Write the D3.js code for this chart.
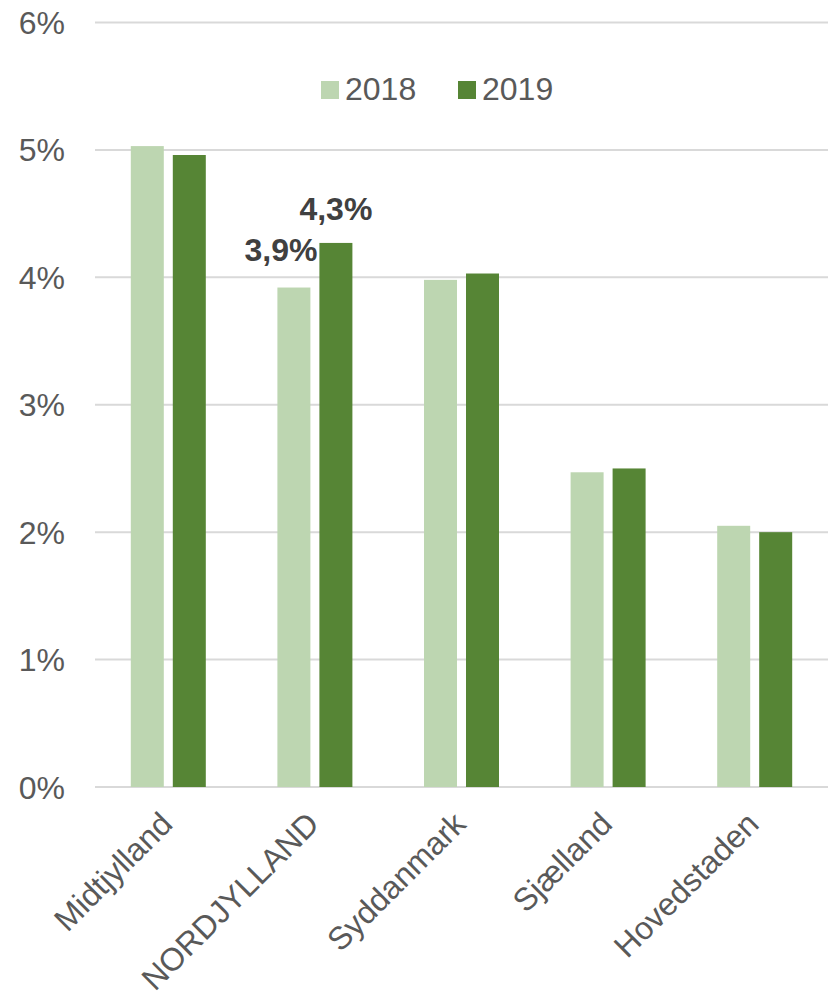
<!DOCTYPE html>
<html>
<head>
<meta charset="utf-8">
<script src="https://cdn.jsdelivr.net/npm/d3@7/dist/d3.min.js"></script>
<style>
    html, body { margin: 0; padding: 0; background: #fff; }
    svg text { font-family: "Liberation Sans", Arial, sans-serif; }
</style>
</head>
<body>
<div id="chart"></div>
<script>
(function () {

    // Data
    var regions = ['Midtjylland', 'NORDJYLLAND', 'Syddanmark', 'Sjælland', 'Hovedstaden'];
    var years = ['2018', '2019'];
    var values2018 = [0.0503, 0.0392, 0.0398, 0.0247, 0.0205];
    var values2019 = [0.0496, 0.0427, 0.0403, 0.0250, 0.0200];
    var yTicks = [0, 0.01, 0.02, 0.03, 0.04, 0.05, 0.06];
    var yTickLabels = ['0%', '1%', '2%', '3%', '4%', '5%', '6%'];
    var labelled = [
        { region: 'NORDJYLLAND', year: '2018', text: '3,9%' },
        { region: 'NORDJYLLAND', year: '2019', text: '4,3%' }
    ];

    var colors = { '2018': '#bdd6b1', '2019': '#568535' };
    var textGray = '#595959';

    var width = 833, height = 1003;

    // Root svg
    var svg = d3.select('#chart')
        .append('svg')
        .attr('width', width)
        .attr('height', height);

    // Scales
    var x = d3.scaleBand()
        .domain(regions)
        .range([95, 828]);

    var groupW = 75;
    var x1 = d3.scaleBand()
        .domain(years)
        .range([(x.bandwidth() - groupW) / 2, (x.bandwidth() + groupW) / 2])
        .paddingInner(9 / 42);

    var y = d3.scaleLinear()
        .domain([0, 0.06])
        .range([787, 22.5]);

    // Gridlines
    svg.append('g')
        .selectAll('line')
        .data(yTicks)
        .enter()
        .append('line')
        .attr('x1', x.range()[0])
        .attr('x2', x.range()[1])
        .attr('y1', function (d) { return y(d); })
        .attr('y2', function (d) { return y(d); })
        .attr('stroke', '#d9d9d9')
        .attr('stroke-width', 2);

    // Y axis labels
    svg.append('g')
        .selectAll('text')
        .data(yTicks)
        .enter()
        .append('text')
        .attr('x', 65)
        .attr('y', function (d) { return y(d); })
        .attr('dy', '0.36em')
        .attr('text-anchor', 'end')
        .attr('font-size', 32)
        .attr('fill', textGray)
        .text(function (d, i) { return yTickLabels[i]; });

    // Bars
    var rows = regions.map(function (r, i) {
        return { region: r, '2018': values2018[i], '2019': values2019[i] };
    });

    var groups = svg.append('g')
        .selectAll('g')
        .data(rows)
        .enter()
        .append('g')
        .attr('transform', function (d) { return 'translate(' + x(d.region) + ',0)'; });

    groups.selectAll('rect')
        .data(function (d) {
            return years.map(function (yr) { return { year: yr, value: d[yr] }; });
        })
        .enter()
        .append('rect')
        .attr('x', function (d) { return x1(d.year); })
        .attr('width', x1.bandwidth())
        .attr('y', function (d) { return y(d.value); })
        .attr('height', function (d) { return y(0) - y(d.value); })
        .attr('fill', function (d) { return colors[d.year]; });

    // Data labels (only Nordjylland)
    labelled.forEach(function (l) {
        var i = regions.indexOf(l.region);
        var v = (l.year === '2018' ? values2018 : values2019)[i];
        var bx = x(l.region) + x1(l.year);
        var t = svg.append('text')
            .attr('font-size', 32)
            .attr('font-weight', 'bold')
            .attr('fill', '#404040')
            .text(l.text);
        if (l.year === '2018') {
            // shifted left so it does not hit the 2019 bar
            t.attr('x', bx + x1.bandwidth() + 7)
                .attr('y', y(v) - 27)
                .attr('text-anchor', 'end');
        } else {
            t.attr('x', bx + x1.bandwidth() / 2)
                .attr('y', y(v) - 23)
                .attr('text-anchor', 'middle');
        }
    });

    // X axis labels, rotated
    svg.append('g')
        .selectAll('text')
        .data(regions)
        .enter()
        .append('text')
        .attr('transform', function (d) {
            return 'translate(' + (x(d) + x.bandwidth() / 2 + 6) + ',826) rotate(-45)';
        })
        .attr('text-anchor', 'end')
        .attr('font-size', 32)
        .attr('fill', textGray)
        .text(function (d) { return d; });

    // Legend
    var legend = svg.append('g')
        .selectAll('g')
        .data(years)
        .enter()
        .append('g')
        .attr('transform', function (d, i) { return 'translate(' + (321 + i * 137) + ',81)'; });

    legend.append('rect')
        .attr('width', 18)
        .attr('height', 18)
        .attr('fill', function (d) { return colors[d]; });

    legend.append('text')
        .attr('x', 24)
        .attr('y', 19)
        .attr('font-size', 32)
        .attr('fill', textGray)
        .text(function (d) { return d; });

})();
</script>
</body>
</html>
